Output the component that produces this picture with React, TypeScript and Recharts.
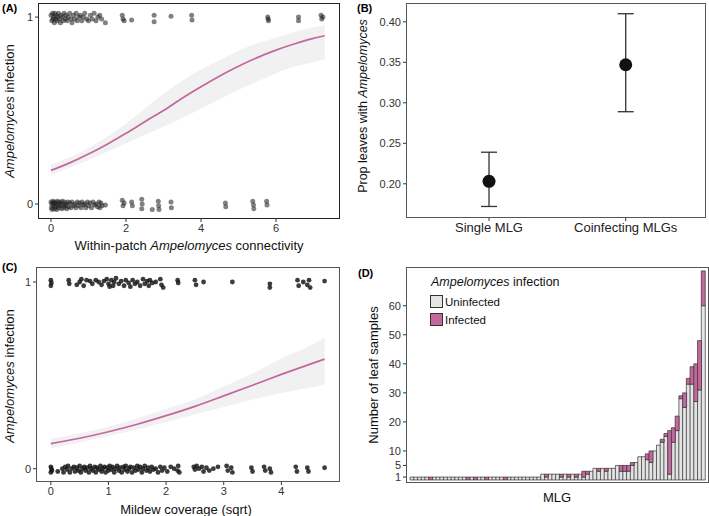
import React from "react";
import {
  ComposedChart,
  BarChart,
  Bar,
  Line,
  Area,
  Scatter,
  ErrorBar,
  XAxis,
  YAxis,
} from "recharts";

const FONT = '"Liberation Sans", Arial, Helvetica, sans-serif';
const PINK = "#c4679c";
const BAND = "#f1f1f1";
const TICK = { fontSize: 11, fill: "#333", fontFamily: FONT };

// (A) within-patch connectivity
const fitAX = [0, 0.5, 1, 1.5, 2, 2.5, 3, 3.5, 4, 4.5, 5, 5.5, 6, 6.5, 7, 7.3];
const fitAY = [0.18, 0.22, 0.267, 0.32, 0.378, 0.44, 0.5, 0.566, 0.627, 0.685, 0.737, 0.783, 0.823, 0.857, 0.886, 0.9];
const fitALo = [0.155, 0.195, 0.235, 0.28, 0.325, 0.37, 0.415, 0.46, 0.51, 0.56, 0.61, 0.655, 0.7, 0.735, 0.76, 0.775];
const fitAHi = [0.21, 0.25, 0.3, 0.36, 0.43, 0.51, 0.59, 0.66, 0.72, 0.77, 0.82, 0.86, 0.89, 0.92, 0.945, 0.955];

const pointsAInfected: [number, number][] = [
  [0.0, 1.01], [0.02, 0.98], [0.04, 1.02], [0.05, 0.99], [0.07, 1.0], [0.09, 0.97], [0.1, 1.02], [0.12, 0.99],
  [0.14, 1.01], [0.16, 0.98], [0.18, 1.0], [0.2, 1.02], [0.22, 0.99], [0.25, 0.97], [0.27, 1.01], [0.3, 1.0],
  [0.32, 0.98], [0.35, 1.02], [0.38, 0.99], [0.4, 1.01], [0.43, 0.98], [0.46, 1.0], [0.5, 1.02], [0.53, 0.99],
  [0.56, 0.97], [0.6, 1.01], [0.63, 0.99], [0.67, 1.02], [0.7, 0.98], [0.74, 1.0], [0.78, 1.01], [0.82, 0.98],
  [0.86, 1.0], [0.9, 1.02], [0.95, 0.99], [1.0, 0.98], [1.05, 1.01], [1.1, 0.99], [1.15, 1.02], [1.2, 0.98],
  [1.25, 1.0], [1.3, 1.01], [1.35, 0.99], [1.45, 0.97],
  [1.9, 1.01], [1.92, 0.99], [1.95, 0.98], [2.15, 0.985], [2.75, 1.01], [2.75, 0.975], [3.2, 1.005],
  [3.75, 1.01], [3.76, 0.985], [5.78, 1.0], [5.8, 0.98], [5.79, 0.99], [6.6, 1.0], [6.6, 0.98],
  [7.2, 1.01], [7.22, 0.99], [7.25, 1.0],
];
const pointsAUninfected: [number, number][] = [
  [0.0, 0.01], [0.01, -0.02], [0.02, 0.0], [0.03, -0.03], [0.05, 0.015], [0.06, -0.01], [0.08, 0.005], [0.09, -0.025],
  [0.11, 0.01], [0.12, -0.015], [0.14, 0.0], [0.15, -0.03], [0.17, 0.015], [0.19, -0.005], [0.2, -0.02], [0.22, 0.01],
  [0.24, -0.01], [0.26, 0.005], [0.28, -0.025], [0.3, 0.015], [0.32, -0.005], [0.34, -0.02], [0.36, 0.01], [0.38, -0.01],
  [0.4, 0.0], [0.42, -0.025], [0.45, 0.01], [0.47, -0.015], [0.5, 0.005], [0.53, -0.02], [0.56, 0.01], [0.6, -0.01],
  [0.63, 0.0], [0.66, -0.02], [0.7, 0.01], [0.73, -0.01], [0.76, 0.005], [0.8, -0.02], [0.83, 0.01], [0.86, -0.005],
  [0.9, 0.0], [0.93, -0.02], [0.97, 0.01], [1.0, -0.01], [1.04, 0.005], [1.08, -0.02], [1.12, 0.01], [1.16, -0.005],
  [1.2, 0.0], [1.24, -0.015], [1.28, 0.01], [1.3, -0.02], [1.33, 0.005], [1.36, -0.01], [1.45, -0.005],
  [1.9, 0.02], [1.92, -0.01], [1.95, 0.005], [2.15, 0.01], [2.17, -0.01], [2.42, 0.025], [2.43, 0.0], [2.42, -0.025],
  [2.7, -0.03], [2.86, 0.015], [2.87, -0.01], [2.88, -0.03], [3.2, 0.01], [3.21, -0.02], [4.65, 0.005], [4.66, -0.015],
  [5.38, 0.015], [5.4, -0.005], [5.41, -0.025], [5.75, 0.015], [5.76, -0.005],
];

// (B) proportion of leaves with Ampelomyces
const groupNames = ["Single MLG", "Coinfecting MLGs"];
const groupMean = [0.203, 0.347];
const groupLower = [0.172, 0.289];
const groupUpper = [0.239, 0.41];

// (C) mildew coverage
const fitCX = [0, 0.5, 1, 1.5, 2, 2.5, 3, 3.5, 4, 4.5, 4.75];
const fitCY = [0.134, 0.163, 0.198, 0.238, 0.284, 0.334, 0.39, 0.447, 0.505, 0.56, 0.587];
const fitCLo = [0.11, 0.14, 0.175, 0.21, 0.25, 0.29, 0.33, 0.37, 0.405, 0.435, 0.45];
const fitCHi = [0.16, 0.19, 0.225, 0.27, 0.32, 0.37, 0.44, 0.51, 0.59, 0.66, 0.7];

const pointsCInfected: [number, number][] = [
  [0.0, 1.01], [0.0, 0.98], [0.01, 0.995], [0.31, 1.01], [0.32, 0.99], [0.45, 0.985], [0.5, 1.0], [0.53, 1.015],
  [0.57, 0.98], [0.62, 1.01], [0.68, 1.005], [0.72, 0.99], [0.78, 1.01], [0.83, 1.0], [0.88, 0.985], [0.92, 1.005],
  [0.97, 1.015], [1.0, 0.99], [1.02, 0.975], [1.05, 1.01], [1.08, 0.98], [1.1, 1.0], [1.13, 1.02], [1.18, 0.99],
  [1.22, 1.005], [1.27, 0.98], [1.3, 1.01], [1.35, 0.995], [1.38, 0.975], [1.42, 1.01], [1.46, 0.99], [1.5, 1.0],
  [1.55, 0.98], [1.6, 1.015], [1.63, 0.99], [1.67, 1.005], [1.7, 0.98], [1.72, 1.01], [1.76, 0.995], [1.82, 1.0],
  [1.9, 1.015], [1.92, 0.985], [1.95, 0.97], [2.2, 1.01], [2.21, 0.995], [2.5, 1.01], [2.52, 0.985], [2.65, 1.0],
  [3.15, 1.0], [3.8, 0.99], [3.8, 0.97], [4.28, 1.01], [4.3, 0.98], [4.38, 1.0], [4.45, 0.985], [4.48, 1.01],
  [4.5, 0.97], [4.75, 1.005],
];
const pointsCUninfected: [number, number][] = [
  [0.0, 0.01], [0.0, -0.02], [0.01, 0.0], [0.02, -0.01], [0.12, -0.015], [0.2, 0.0], [0.22, -0.02], [0.25, 0.01],
  [0.28, -0.005], [0.3, 0.015], [0.33, -0.02], [0.36, 0.0], [0.4, 0.01], [0.42, -0.015], [0.45, 0.005], [0.48, -0.01],
  [0.5, 0.015], [0.52, -0.02], [0.55, 0.0], [0.58, 0.01], [0.6, -0.01], [0.63, 0.005], [0.66, -0.02], [0.68, 0.015],
  [0.7, 0.0], [0.73, -0.01], [0.76, 0.01], [0.78, -0.02], [0.8, 0.005], [0.83, -0.005], [0.86, 0.015], [0.88, -0.015],
  [0.9, 0.0], [0.93, 0.01], [0.95, -0.02], [0.98, 0.005], [1.0, -0.01], [1.02, 0.015], [1.05, -0.005], [1.07, 0.01],
  [1.1, -0.02], [1.12, 0.0], [1.15, 0.015], [1.18, -0.01], [1.2, 0.005], [1.23, -0.02], [1.26, 0.01], [1.28, -0.005],
  [1.3, 0.015], [1.33, -0.015], [1.36, 0.0], [1.38, 0.01], [1.41, -0.02], [1.44, 0.005], [1.47, -0.01], [1.5, 0.015],
  [1.52, -0.005], [1.55, 0.01], [1.58, -0.02], [1.6, 0.0], [1.63, 0.015], [1.66, -0.01], [1.69, 0.005], [1.72, -0.015],
  [1.75, 0.01], [1.78, -0.005], [1.82, 0.0], [1.86, -0.02], [1.9, 0.01], [1.93, -0.01], [1.97, 0.005], [2.02, -0.015],
  [2.08, 0.01], [2.14, 0.0], [2.2, -0.01], [2.21, 0.015], [2.23, -0.02],
  [2.48, 0.01], [2.5, -0.005], [2.53, 0.015], [2.57, 0.0], [2.62, 0.01], [2.65, -0.015], [2.7, 0.005], [2.75, -0.01],
  [2.82, 0.0], [2.9, 0.01], [3.05, 0.015], [3.07, -0.01], [3.13, 0.005], [3.15, -0.02], [3.48, 0.005], [3.5, -0.015],
  [3.7, 0.01], [3.72, -0.01], [3.8, 0.0], [3.82, -0.02], [4.25, 0.01], [4.27, -0.015], [4.45, 0.005], [4.47, -0.015],
  [4.75, 0.005],
];

// (D) leaf samples per MLG
const mlgUninfected = [
  1, 1, 1, 1, 1, 0, 1, 1, 1, 1, 1, 1, 1, 1, 1, 0, 1, 0, 1, 1, 0, 1, 1, 1, 1, 0, 1, 1, 1, 1,
  1, 1, 1, 1, 1, 2, 1, 2, 2, 2, 1, 2, 1, 2, 1, 2, 1, 2, 3, 4, 3, 4, 3, 4, 4, 5, 3, 3, 3, 5,
  6, 8, 8, 7, 6, 10, 12, 13, 15, 2, 13, 17, 28, 25, 33, 33, 27, 31, 60,
];
const mlgInfected = [
  0, 0, 0, 0, 0, 1, 0, 0, 0, 0, 0, 0, 0, 0, 0, 1, 0, 1, 0, 0, 1, 0, 0, 0, 0, 1, 0, 0, 0, 0,
  0, 0, 0, 0, 0, 0, 1, 0, 0, 0, 1, 0, 1, 0, 1, 0, 2, 1, 0, 0, 1, 0, 1, 0, 0, 0, 2, 2, 2, 1,
  0, 0, 0, 2, 4, 0, 0, 1, 1, 15, 5, 5, 1, 5, 2, 6, 13, 17, 12,
];
const mlgTicks = [1, 5, 10, 20, 30, 40, 50, 60];

const curveA = fitAX.map((x, i) => ({ x, fit: fitAY[i], band: [fitALo[i], fitAHi[i]] }));
const curveC = fitCX.map((x, i) => ({ x, fit: fitCY[i], band: [fitCLo[i], fitCHi[i]] }));
const toXY = (pts: [number, number][]) => pts.map(([x, y]) => ({ x, y }));
const groupData = groupNames.map((name, i) => ({
  x: i + 1,
  y: groupMean[i],
  err: [groupMean[i] - groupLower[i], groupUpper[i] - groupMean[i]],
}));
const mlgData = mlgUninfected.map((u, i) => ({
  mlg: "MLG" + (i + 1),
  uninfected: u,
  infected: mlgInfected[i],
}));

const abs = (left: number, top: number): React.CSSProperties => ({ position: "absolute", left, top });

function Frame({ left, top, width, height, color = "#555" }: { left: number; top: number; width: number; height: number; color?: string }) {
  return (
    <div
      style={{
        ...abs(left - 0.7, top - 0.7),
        width,
        height,
        border: `1.4px solid ${color}`,
        pointerEvents: "none",
      }}
    />
  );
}

function Title({ x, y, children, rotate = false, size = 13 }: { x: number; y: number; children: React.ReactNode; rotate?: boolean; size?: number }) {
  return (
    <div
      style={{
        ...abs(x, y),
        transform: `translate(-50%, -50%)${rotate ? " rotate(-90deg)" : ""}`,
        whiteSpace: "nowrap",
        fontSize: size,
        color: "#111",
        lineHeight: 1,
      }}
    >
      {children}
    </div>
  );
}

function PanelTag({ x, y, label }: { x: number; y: number; label: string }) {
  return <div style={{ ...abs(x, y), fontSize: 11, fontWeight: "bold", lineHeight: 1 }}>{label}</div>;
}

const dot = (r: number, fill: string, opacity: number) => (props: any) =>
  <circle cx={props.cx} cy={props.cy} r={r} fill={fill} fillOpacity={opacity} />;

export default function App() {
  return (
    <div style={{ ...abs(0, 0), width: 709, height: 516, background: "#fff", fontFamily: FONT }}>
      {/* A */}
      <div style={abs(0, 0)}>
        <ComposedChart width={354} height={258} data={curveA} margin={{ top: 4, right: 15, bottom: 0, left: 0 }}>
          <XAxis type="number" dataKey="x" domain={[-0.32, 7.68]} ticks={[0, 2, 4, 6]} allowDataOverflow axisLine={false} tickSize={4} tick={TICK} height={40} stroke="#333" />
          <YAxis type="number" domain={[-0.075, 1.07]} ticks={[0, 1]} allowDataOverflow axisLine={false} tickSize={4} tick={TICK} width={39} stroke="#333" />
          <Area type="monotone" dataKey="band" fill={BAND} fillOpacity={1} stroke="none" isAnimationActive={false} />
          <Line type="monotone" dataKey="fit" stroke={PINK} strokeWidth={1.7} dot={false} isAnimationActive={false} />
          <Scatter data={toXY(pointsAInfected)} dataKey="y" shape={dot(2.5, "#1a1a1a", 0.55)} isAnimationActive={false} />
          <Scatter data={toXY(pointsAUninfected)} dataKey="y" shape={dot(2.5, "#1a1a1a", 0.55)} isAnimationActive={false} />
        </ComposedChart>
      </div>
      <Frame left={39} top={4} width={300} height={214} color="#222" />
      <PanelTag x={2} y={3} label="(A)" />
      <Title x={9} y={111} rotate>
        <i>Ampelomyces</i> infection
      </Title>
      <Title x={189} y={245}>
        Within-patch <i>Ampelomyces</i> connectivity
      </Title>

      {/* B */}
      <div style={abs(354, 0)}>
        <ComposedChart width={355} height={258} data={groupData} margin={{ top: 4, right: 4, bottom: 0, left: 0 }}>
          <XAxis
            type="number"
            dataKey="x"
            domain={[0.4, 2.58]}
            ticks={[1, 2]}
            allowDataOverflow
            axisLine={false}
            tickSize={4}
            tick={{ ...TICK, fontSize: 13, fill: "#222" }}
            tickFormatter={(v: number) => groupNames[v - 1]}
            height={41}
            stroke="#333"
          />
          <YAxis
            type="number"
            domain={[0.159, 0.422]}
            ticks={[0.2, 0.25, 0.3, 0.35, 0.4]}
            tickFormatter={(v: number) => v.toFixed(2)}
            allowDataOverflow
            axisLine={false}
            tickSize={4}
            tick={TICK}
            width={53}
            stroke="#333"
          />
          <Scatter dataKey="y" shape={dot(6.5, "#111", 1)} isAnimationActive={false}>
            <ErrorBar dataKey="err" direction="y" width={8} stroke="#333" strokeWidth={1.3} isAnimationActive={false} />
          </Scatter>
        </ComposedChart>
      </div>
      <Frame left={407} top={4} width={298} height={213} />
      <PanelTag x={357} y={3} label="(B)" />
      <Title x={363} y={106} rotate size={12.5}>
        Prop leaves with <i>Ampelomyces</i>
      </Title>

      {/* C */}
      <div style={abs(0, 258)}>
        <ComposedChart width={354} height={258} data={curveC} margin={{ top: 10, right: 15, bottom: 0, left: 0 }}>
          <XAxis type="number" dataKey="x" domain={[-0.24, 5.0]} ticks={[0, 1, 2, 3, 4]} allowDataOverflow axisLine={false} tickSize={4} tick={TICK} height={35} stroke="#333" />
          <YAxis type="number" domain={[-0.066, 1.075]} ticks={[0, 1]} allowDataOverflow axisLine={false} tickSize={4} tick={TICK} width={37} stroke="#333" />
          <Area type="monotone" dataKey="band" fill={BAND} fillOpacity={1} stroke="none" isAnimationActive={false} />
          <Line type="monotone" dataKey="fit" stroke={PINK} strokeWidth={1.7} dot={false} isAnimationActive={false} />
          <Scatter data={toXY(pointsCInfected)} dataKey="y" shape={dot(2.4, "#111", 0.82)} isAnimationActive={false} />
          <Scatter data={toXY(pointsCUninfected)} dataKey="y" shape={dot(2.4, "#111", 0.82)} isAnimationActive={false} />
        </ComposedChart>
      </div>
      <Frame left={37} top={268} width={302} height={213} />
      <PanelTag x={2} y={262} label="(C)" />
      <Title x={9} y={376} rotate>
        <i>Ampelomyces</i> infection
      </Title>
      <Title x={186} y={509}>Mildew coverage (sqrt)</Title>

      {/* D */}
      <div style={abs(354, 258)}>
        <BarChart width={355} height={258} data={mlgData} barCategoryGap={0} barGap={0} margin={{ top: 10, right: 1, bottom: 0, left: 0 }}>
          <XAxis dataKey="mlg" tick={false} tickLine={false} axisLine={false} height={34} padding={{ left: 3, right: 3 }} />
          <YAxis type="number" domain={[-0.7, 73]} ticks={mlgTicks} allowDataOverflow axisLine={false} tickSize={4} tick={TICK} width={53} stroke="#333" interval={0} />
          <Bar dataKey="uninfected" stackId="s" fill="#e4e4e4" stroke="#333" strokeWidth={0.7} isAnimationActive={false} />
          <Bar dataKey="infected" stackId="s" fill={PINK} stroke="#333" strokeWidth={0.7} isAnimationActive={false} />
        </BarChart>
      </div>
      <Frame left={407} top={268} width={301} height={214} />
      <PanelTag x={358} y={268} label="(D)" />
      <Title x={373} y={375} rotate>
        Number of leaf samples
      </Title>
      <Title x={557} y={497}>MLG</Title>
      <div style={{ ...abs(431, 276), fontSize: 12.5, color: "#111", lineHeight: 1 }}>
        <i>Ampelomyces</i> infection
      </div>
      {[
        { label: "Uninfected", fill: "#e4e4e4", top: 295 },
        { label: "Infected", fill: PINK, top: 313 },
      ].map((e) => (
        <div key={e.label} style={{ ...abs(430, e.top), display: "flex", alignItems: "center", fontSize: 11.5, color: "#111" }}>
          <span style={{ width: 11, height: 11, background: e.fill, border: "1px solid #333", display: "inline-block", marginRight: 2 }} />
          {e.label}
        </div>
      ))}
    </div>
  );
}
